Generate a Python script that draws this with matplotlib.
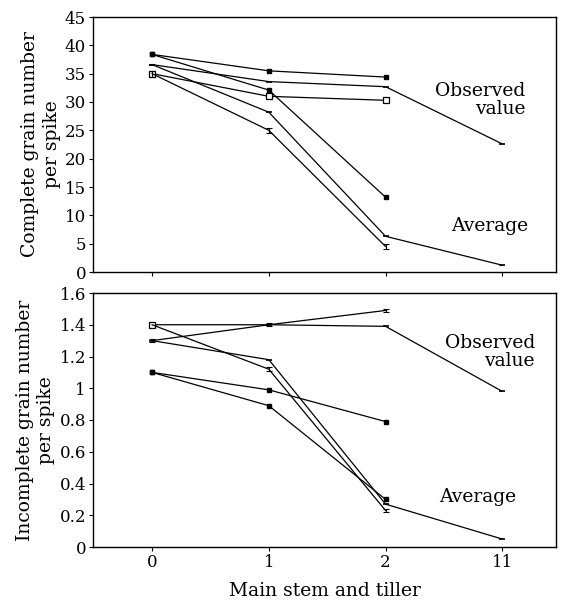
import matplotlib
matplotlib.use("Agg")
import matplotlib.pyplot as plt

# ---- data ----
tillers = ["0", "1", "2", "11"]

# complete grain number per spike
top_obs = [36.6, 33.6, 32.7, 22.6]
top_avg = [36.6, 28.2, 6.3, 1.2]
top_fill_a = [38.4, 35.5, 34.4]
top_fill_b = [38.4, 32.1, 13.2]
top_open = [35.0, 31.0, 30.3]
top_err = [35.0, 25.0, 4.5]

# incomplete grain number per spike
bot_obs = [1.40, 1.40, 1.39, 0.98]
bot_avg = [1.30, 1.18, 0.27, 0.05]
bot_err_a = [1.30, 1.40, 1.49]
bot_err_b = [1.40, 1.12, 0.23]
bot_fill_a = [1.10, 0.99, 0.79]
bot_fill_b = [1.10, 0.89, 0.30]

plt.rcParams["font.family"] = ["DejaVu Serif"]
plt.rcParams["font.size"] = 12

fig = plt.figure(figsize=(5.63, 6.02), dpi=100)
ax1 = fig.add_axes([93 / 563, 1 - 272 / 602, 463 / 563, 255 / 602])
ax2 = fig.add_axes([93 / 563, 1 - 547 / 602, 463 / 563, 254 / 602])

x4 = list(range(len(tillers)))
x3 = x4[:3]
lw = 0.9


def draw(ax, obs, avg, fa, fb, op, er, ebar, ebar2=None):
    ax.plot(x4, obs, color="black", lw=lw, marker="_", ms=5, mew=1.2)
    ax.plot(x4, avg, color="black", lw=lw, marker="_", ms=5, mew=1.2)
    ax.plot(x3, fa, color="black", lw=lw, marker="s", ms=3.5)
    ax.plot(x3, fb, color="black", lw=lw, marker="s", ms=3.5)
    if op is not None:
        ax.plot(x3, op, color="black", lw=lw, marker="s", ms=4,
                mfc="white", mew=0.9)
    ax.errorbar(x3, er, yerr=ebar, color="black", lw=lw, capsize=2.5,
                elinewidth=0.8, capthick=0.8)
    if ebar2 is not None:
        ax.errorbar(x3, ebar2[0], yerr=ebar2[1], color="black", lw=lw,
                    capsize=2.5, elinewidth=0.8, capthick=0.8)


draw(ax1, top_obs, top_avg, top_fill_a, top_fill_b, top_open, top_err, 0.5)
ax1.set_ylim(0, 45)
ax1.set_yticks(range(0, 46, 5))
ax1.set_ylabel("Complete grain number\nper spike", fontsize=13.5,
               labelpad=3, linespacing=1.25)
ax1.text(3.2, 30.3, "Observed\nvalue", ha="right", va="center",
         multialignment="right", fontsize=13.5, linespacing=1.0)
ax1.text(2.89, 8.1, "Average", ha="center", va="center", fontsize=13.5)
ax1.set_xticklabels([])

draw(ax2, bot_obs, bot_avg, bot_fill_a, bot_fill_b, None, bot_err_a, 0.01,
     ebar2=(bot_err_b, 0.012))
ax2.plot(0, bot_err_b[0], marker="s", ms=4, mfc="white", mec="black", mew=0.9)
ax2.set_ylim(0, 1.6)
ax2.set_yticks([0, 0.2, 0.4, 0.6, 0.8, 1.0, 1.2, 1.4, 1.6])
ax2.set_yticklabels(["0", "0.2", "0.4", "0.6", "0.8", "1", "1.2", "1.4", "1.6"])
ax2.set_ylabel("Incomplete grain number\nper spike", fontsize=13.5,
               labelpad=3, linespacing=1.25)
ax2.text(3.28, 1.227, "Observed\nvalue", ha="right", va="center",
         multialignment="right", fontsize=13.5, linespacing=1.0)
ax2.text(2.79, 0.316, "Average", ha="center", va="center", fontsize=13.5)
ax2.set_xlabel("Main stem and tiller", fontsize=13.5, labelpad=8)

for ax in (ax1, ax2):
    ax.set_xlim(-0.506, 3.46)
    ax.set_xticks(x4)
    ax.tick_params(direction="out", length=3, width=0.8, pad=2)
    for s in ax.spines.values():
        s.set_linewidth(1.0)
ax2.set_xticklabels(tillers)

fig.savefig("out.png", dpi=100)
